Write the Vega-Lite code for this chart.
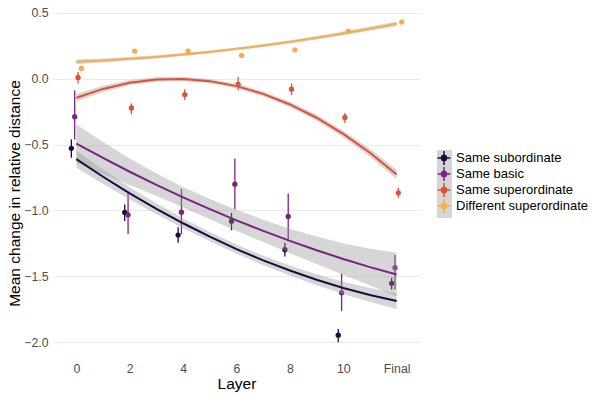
{
  "$schema": "https://vega.github.io/schema/vega-lite/v6.json",
  "width": 367,
  "height": 353,
  "autosize": {"type": "none"},
  "padding": {"left": 53, "top": 5, "right": 178, "bottom": 41},
  "background": "white",
  "config": {"font": "Liberation Sans", "view": {"stroke": null}},
  "datasets": {
    "points": [
      {"group": "Same subordinate", "layer": 0, "x": -0.1875, "y": -0.528, "lo": -0.600, "hi": -0.462},
      {"group": "Same subordinate", "layer": 2, "x": 1.8125, "y": -1.015, "lo": -1.080, "hi": -0.955},
      {"group": "Same subordinate", "layer": 4, "x": 3.8125, "y": -1.187, "lo": -1.245, "hi": -1.127},
      {"group": "Same subordinate", "layer": 6, "x": 5.8125, "y": -1.081, "lo": -1.149, "hi": -1.018},
      {"group": "Same subordinate", "layer": 8, "x": 7.8125, "y": -1.298, "lo": -1.350, "hi": -1.245},
      {"group": "Same subordinate", "layer": 10, "x": 9.8125, "y": -1.947, "lo": -2.000, "hi": -1.900},
      {"group": "Same subordinate", "layer": 12, "x": 11.8125, "y": -1.553, "lo": -1.600, "hi": -1.510},
      {"group": "Same basic", "layer": 0, "x": -0.0625, "y": -0.288, "lo": -0.462, "hi": -0.089},
      {"group": "Same basic", "layer": 2, "x": 1.9375, "y": -1.033, "lo": -1.178, "hi": -0.868},
      {"group": "Same basic", "layer": 4, "x": 3.9375, "y": -1.013, "lo": -1.180, "hi": -0.836},
      {"group": "Same basic", "layer": 6, "x": 5.9375, "y": -0.800, "lo": -0.990, "hi": -0.606},
      {"group": "Same basic", "layer": 8, "x": 7.9375, "y": -1.045, "lo": -1.220, "hi": -0.871},
      {"group": "Same basic", "layer": 10, "x": 9.9375, "y": -1.624, "lo": -1.763, "hi": -1.480},
      {"group": "Same basic", "layer": 12, "x": 11.9375, "y": -1.434, "lo": -1.600, "hi": -1.338},
      {"group": "Same superordinate", "layer": 0, "x": 0.0625, "y": 0.010, "lo": -0.036, "hi": 0.052},
      {"group": "Same superordinate", "layer": 2, "x": 2.0625, "y": -0.222, "lo": -0.271, "hi": -0.187},
      {"group": "Same superordinate", "layer": 4, "x": 4.0625, "y": -0.120, "lo": -0.162, "hi": -0.079},
      {"group": "Same superordinate", "layer": 6, "x": 6.0625, "y": -0.043, "lo": -0.087, "hi": 0.014},
      {"group": "Same superordinate", "layer": 8, "x": 8.0625, "y": -0.079, "lo": -0.125, "hi": -0.036},
      {"group": "Same superordinate", "layer": 10, "x": 10.0625, "y": -0.294, "lo": -0.335, "hi": -0.259},
      {"group": "Same superordinate", "layer": 12, "x": 12.0625, "y": -0.866, "lo": -0.904, "hi": -0.828},
      {"group": "Different superordinate", "layer": 0, "x": 0.1875, "y": 0.078, "lo": 0.066, "hi": 0.090},
      {"group": "Different superordinate", "layer": 2, "x": 2.1875, "y": 0.210, "lo": 0.198, "hi": 0.222},
      {"group": "Different superordinate", "layer": 4, "x": 4.1875, "y": 0.210, "lo": 0.198, "hi": 0.222},
      {"group": "Different superordinate", "layer": 6, "x": 6.1875, "y": 0.177, "lo": 0.165, "hi": 0.189},
      {"group": "Different superordinate", "layer": 8, "x": 8.1875, "y": 0.220, "lo": 0.208, "hi": 0.232},
      {"group": "Different superordinate", "layer": 10, "x": 10.1875, "y": 0.360, "lo": 0.348, "hi": 0.372},
      {"group": "Different superordinate", "layer": 12, "x": 12.1875, "y": 0.430, "lo": 0.418, "hi": 0.442}
    ],
    "fit": [
      {"group": "Same subordinate", "x": 0, "y": -0.610, "lo": -0.675, "hi": -0.545},
      {"group": "Same subordinate", "x": 1, "y": -0.744, "lo": -0.799, "hi": -0.689},
      {"group": "Same subordinate", "x": 2, "y": -0.870, "lo": -0.917, "hi": -0.823},
      {"group": "Same subordinate", "x": 3, "y": -0.987, "lo": -1.028, "hi": -0.946},
      {"group": "Same subordinate", "x": 4, "y": -1.097, "lo": -1.134, "hi": -1.060},
      {"group": "Same subordinate", "x": 5, "y": -1.199, "lo": -1.234, "hi": -1.164},
      {"group": "Same subordinate", "x": 6, "y": -1.293, "lo": -1.328, "hi": -1.258},
      {"group": "Same subordinate", "x": 7, "y": -1.379, "lo": -1.415, "hi": -1.343},
      {"group": "Same subordinate", "x": 8, "y": -1.456, "lo": -1.494, "hi": -1.418},
      {"group": "Same subordinate", "x": 9, "y": -1.526, "lo": -1.568, "hi": -1.484},
      {"group": "Same subordinate", "x": 10, "y": -1.588, "lo": -1.635, "hi": -1.541},
      {"group": "Same subordinate", "x": 11, "y": -1.642, "lo": -1.695, "hi": -1.589},
      {"group": "Same subordinate", "x": 12, "y": -1.688, "lo": -1.748, "hi": -1.628},
      {"group": "Same basic", "x": 0, "y": -0.492, "lo": -0.637, "hi": -0.347},
      {"group": "Same basic", "x": 1, "y": -0.601, "lo": -0.721, "hi": -0.481},
      {"group": "Same basic", "x": 2, "y": -0.706, "lo": -0.806, "hi": -0.606},
      {"group": "Same basic", "x": 3, "y": -0.805, "lo": -0.890, "hi": -0.720},
      {"group": "Same basic", "x": 4, "y": -0.900, "lo": -0.978, "hi": -0.822},
      {"group": "Same basic", "x": 5, "y": -0.990, "lo": -1.067, "hi": -0.913},
      {"group": "Same basic", "x": 6, "y": -1.075, "lo": -1.155, "hi": -0.995},
      {"group": "Same basic", "x": 7, "y": -1.155, "lo": -1.240, "hi": -1.070},
      {"group": "Same basic", "x": 8, "y": -1.231, "lo": -1.324, "hi": -1.138},
      {"group": "Same basic", "x": 9, "y": -1.302, "lo": -1.407, "hi": -1.197},
      {"group": "Same basic", "x": 10, "y": -1.368, "lo": -1.488, "hi": -1.248},
      {"group": "Same basic", "x": 11, "y": -1.430, "lo": -1.570, "hi": -1.290},
      {"group": "Same basic", "x": 12, "y": -1.486, "lo": -1.651, "hi": -1.321},
      {"group": "Same superordinate", "x": 0, "y": -0.144, "lo": -0.172, "hi": -0.116},
      {"group": "Same superordinate", "x": 1, "y": -0.077, "lo": -0.101, "hi": -0.053},
      {"group": "Same superordinate", "x": 2, "y": -0.030, "lo": -0.050, "hi": -0.010},
      {"group": "Same superordinate", "x": 3, "y": -0.005, "lo": -0.023, "hi": 0.013},
      {"group": "Same superordinate", "x": 4, "y": -0.001, "lo": -0.018, "hi": 0.016},
      {"group": "Same superordinate", "x": 5, "y": -0.018, "lo": -0.035, "hi": -0.001},
      {"group": "Same superordinate", "x": 6, "y": -0.056, "lo": -0.074, "hi": -0.038},
      {"group": "Same superordinate", "x": 7, "y": -0.115, "lo": -0.134, "hi": -0.096},
      {"group": "Same superordinate", "x": 8, "y": -0.195, "lo": -0.215, "hi": -0.175},
      {"group": "Same superordinate", "x": 9, "y": -0.296, "lo": -0.318, "hi": -0.274},
      {"group": "Same superordinate", "x": 10, "y": -0.419, "lo": -0.444, "hi": -0.394},
      {"group": "Same superordinate", "x": 11, "y": -0.562, "lo": -0.592, "hi": -0.532},
      {"group": "Same superordinate", "x": 12, "y": -0.727, "lo": -0.763, "hi": -0.691},
      {"group": "Different superordinate", "x": 0, "y": 0.129, "lo": 0.111, "hi": 0.147},
      {"group": "Different superordinate", "x": 1, "y": 0.139, "lo": 0.124, "hi": 0.154},
      {"group": "Different superordinate", "x": 2, "y": 0.152, "lo": 0.139, "hi": 0.165},
      {"group": "Different superordinate", "x": 3, "y": 0.166, "lo": 0.154, "hi": 0.178},
      {"group": "Different superordinate", "x": 4, "y": 0.184, "lo": 0.173, "hi": 0.195},
      {"group": "Different superordinate", "x": 5, "y": 0.204, "lo": 0.193, "hi": 0.215},
      {"group": "Different superordinate", "x": 6, "y": 0.227, "lo": 0.216, "hi": 0.238},
      {"group": "Different superordinate", "x": 7, "y": 0.252, "lo": 0.241, "hi": 0.263},
      {"group": "Different superordinate", "x": 8, "y": 0.280, "lo": 0.268, "hi": 0.292},
      {"group": "Different superordinate", "x": 9, "y": 0.311, "lo": 0.298, "hi": 0.324},
      {"group": "Different superordinate", "x": 10, "y": 0.344, "lo": 0.330, "hi": 0.358},
      {"group": "Different superordinate", "x": 11, "y": 0.380, "lo": 0.364, "hi": 0.396},
      {"group": "Different superordinate", "x": 12, "y": 0.417, "lo": 0.399, "hi": 0.435}
    ]
  },
  "encoding": {
    "x": {
      "field": "x", "type": "quantitative", "title": "Layer",
      "scale": {"domain": [-0.875, 12.875], "nice": false, "zero": false},
      "axis": {
        "values": [0, 2, 4, 6, 8, 10, 12], "format": "d",
        "labelExpr": "datum.value == 12 ? 'Final' : datum.label",
        "grid": false, "ticks": false, "domain": false,
        "labelFontSize": 12.3, "labelColor": "#4d4d4d", "labelPadding": 4,
        "labelFlush": false, "labelOverlap": false,
        "titleFontSize": 15.5, "titleFontWeight": "normal", "titleColor": "#000000", "titlePadding": 2
      }
    },
    "y": {
      "field": "y", "type": "quantitative", "title": "Mean change in relative distance",
      "scale": {"domain": [-2.12, 0.56], "nice": false, "zero": false},
      "axis": {
        "values": [-2, -1.5, -1, -0.5, 0, 0.5], "format": ".1f",
        "grid": true, "gridColor": "#ebebeb", "gridWidth": 1.1,
        "ticks": false, "domain": false, "labelOverlap": false, "labelFlush": false,
        "labelFontSize": 12.3, "labelColor": "#4d4d4d", "labelPadding": 5,
        "titleFontSize": 15.5, "titleFontWeight": "normal", "titleColor": "#000000",
        "titleX": -39, "titleY": 188, "titleAngle": -90, "titleAlign": "center", "titleBaseline": "middle"
      }
    },
    "color": {
      "field": "group", "type": "nominal",
      "scale": {
        "domain": ["Same subordinate", "Same basic", "Same superordinate", "Different superordinate"],
        "range": ["#1b0c41", "#7a2382", "#de5137", "#f8ae47"]
      },
      "legend": {
        "title": null, "orient": "none", "legendX": 384, "legendY": 145, "padding": 0, "zindex": 2,
        "symbolType": "M-0.92,0L0.92,0M0,-1L0,1M0.4,0L0.283,0.283L0,0.4L-0.283,0.283L-0.4,0L-0.283,-0.283L0,-0.4L0.283,-0.283Z",
        "symbolSize": 196, "symbolStrokeWidth": 1.5, "symbolOffset": -1, "symbolOpacity": 1,
        "labelFontSize": 13, "labelColor": "#000000", "labelOffset": 4, "labelFont": "Liberation Sans",
        "rowPadding": 0,
        "encode": {
          "symbols": {"update": {
            "fill": {"scale": "color", "field": "value"},
            "stroke": {"scale": "color", "field": "value"},
            "strokeJoin": {"value": "round"},
            "opacity": {"value": 1}
          }}
        }
      }
    }
  },
  "layer": [
    {
      "data": {"name": "points"},
      "mark": {"type": "point", "filled": true, "opacity": 0},
      "encoding": {
        "color": {"value": "#d6d6d6"},
        "shape": {
          "field": "group", "type": "nominal",
          "scale": {
            "domain": ["Same subordinate", "Same basic", "Same superordinate", "Different superordinate", "none"],
            "range": ["M-0.88,-1L0.88,-1L0.88,1L-0.88,1Z", "M-0.88,-1L0.88,-1L0.88,1L-0.88,1Z", "M-0.88,-1L0.88,-1L0.88,1L-0.88,1Z", "M-0.88,-1L0.88,-1L0.88,1L-0.88,1Z", "M-0.88,-1L0.88,-1L0.88,1L-0.88,1Z"]
          },
          "legend": {
            "title": null, "orient": "none", "legendX": 384, "legendY": 145, "padding": 0, "zindex": 1,
            "values": ["Same subordinate", "Same basic", "Same superordinate", "Different superordinate"],
            "symbolSize": 289, "symbolStrokeWidth": 0, "symbolOffset": -1, "symbolOpacity": 1,
            "labelFontSize": 13, "labelOffset": 3, "labelExpr": "''", "rowPadding": 0,
            "encode": {
              "symbols": {"update": {
                "fill": {"value": "#d6d6d6"},
                "opacity": {"value": 1}
              }}
            }
          }
        }
      }
    },
    {
      "data": {"name": "points"},
      "mark": {"type": "rule", "strokeWidth": 1.3},
      "encoding": {
        "y": {"field": "lo", "type": "quantitative", "title": "Mean change in relative distance",
              "scale": {"domain": [-2.12, 0.56], "nice": false, "zero": false}},
        "y2": {"field": "hi"}
      }
    },
    {
      "data": {"name": "points"},
      "mark": {"type": "point", "filled": true, "size": 28, "opacity": 1, "shape": "circle"}
    },
    {
      "data": {"name": "fit"},
      "mark": {"type": "area", "opacity": 0.4},
      "encoding": {
        "y": {"field": "lo", "type": "quantitative", "title": "Mean change in relative distance",
              "scale": {"domain": [-2.12, 0.56], "nice": false, "zero": false}},
        "y2": {"field": "hi"},
        "detail": {"field": "group", "type": "nominal"},
        "color": {"value": "#999999"}
      }
    },
    {
      "data": {"name": "fit"},
      "mark": {"type": "line", "strokeWidth": 2}
    }
  ]
}
